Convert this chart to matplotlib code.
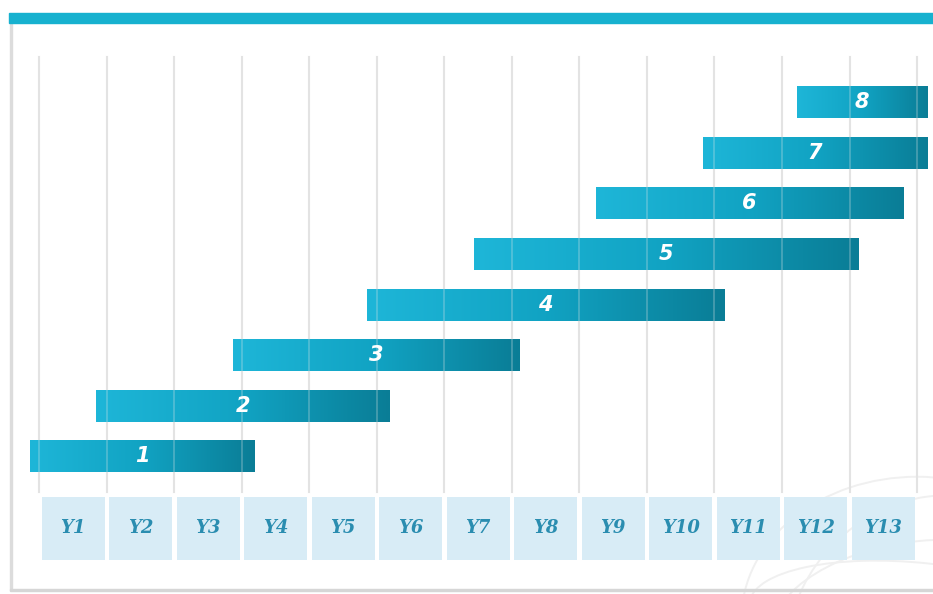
import numpy as np
import matplotlib
matplotlib.use("Agg")
import matplotlib.pyplot as plt
from matplotlib.patches import Rectangle, Arc
from matplotlib.colors import LinearSegmentedColormap

# --- data (year units, Y1 starts at 0) ---
years = ["Y1", "Y2", "Y3", "Y4", "Y5", "Y6", "Y7", "Y8", "Y9", "Y10", "Y11", "Y12", "Y13"]
phases = ["1", "2", "3", "4", "5", "6", "7", "8"]
starts = [-0.14, 0.84, 2.87, 4.85, 6.44, 8.24, 9.83, 11.22]
ends = [3.19, 5.19, 7.12, 10.15, 12.13, 12.79, 13.15, 13.15]

teal = "#17b1cf"
bar_cmap = LinearSegmentedColormap.from_list("bar", ["#1eb6d8", "#11a3c3", "#0a7d96"])
cell_color = "#d8ecf6"
year_text = "#2a8db0"
grid_color = "#e2e2e2"

fig = plt.figure(figsize=(9.33, 5.94), dpi=100)
ax = fig.add_axes([0, 0, 1, 1])
ax.set_xlim(-0.585, 13.237)
ax.set_ylim(-2.715, 9.013)
ax.axis("off")

# card frame
fig.patches.append(Rectangle((10 / 933, 4 / 594), 2 / 933, 567 / 594, transform=fig.transFigure,
                             color="#dcdcdc", zorder=0))
fig.patches.append(Rectangle((10 / 933, 3 / 594), 923 / 933, 2 / 594, transform=fig.transFigure,
                             color="#d6d6d6", zorder=0))
fig.patches.append(Rectangle((9 / 933, 571 / 594), 924 / 933, 10 / 594, transform=fig.transFigure,
                             color=teal, zorder=1))

# faint globe watermark bottom right
for w, h, a in [(5.2, 5.6, 0), (4.4, 3.0, 15), (3.6, 5.0, -20), (5.0, 2.2, -8)]:
    ax.add_patch(Arc((13.0, -3.2), w, h, angle=a, color="#f0f0f0", lw=1.4, zorder=0.5))

# vertical grid lines (also faintly visible across the bars)
for k in range(len(years) + 1):
    ax.plot([k, k], [-0.70, 7.89], color=grid_color, lw=1.5, zorder=1)
    ax.plot([k, k], [-0.70, 7.89], color="#e8e8e8", lw=1.2, alpha=0.3, zorder=4)

# year cells
for i, y in enumerate(years):
    ax.add_patch(Rectangle((i + 0.03, -2.04), 0.94, 1.24, color=cell_color, lw=0, zorder=2))
    ax.text(i + 0.5, -1.42, y, ha="center", va="center", color=year_text,
            fontsize=13, fontweight="bold", style="italic", family="DejaVu Serif", zorder=3)

# gradient bars
grad = np.linspace(0, 1, 256).reshape(1, -1)
bh = 0.63
for k, (s, e) in enumerate(zip(starts, ends)):
    ax.imshow(grad, extent=[s, e, k - bh / 2, k + bh / 2], cmap=bar_cmap, aspect="auto",
              interpolation="bilinear", zorder=3)
    ax.text((s + e) / 2, k, phases[k], ha="center", va="center", color="white",
            fontsize=15, fontweight="bold", style="italic", zorder=5)

ax.set_xlim(-0.585, 13.237)
ax.set_ylim(-2.715, 9.013)

fig.savefig("out.png", dpi=100)
